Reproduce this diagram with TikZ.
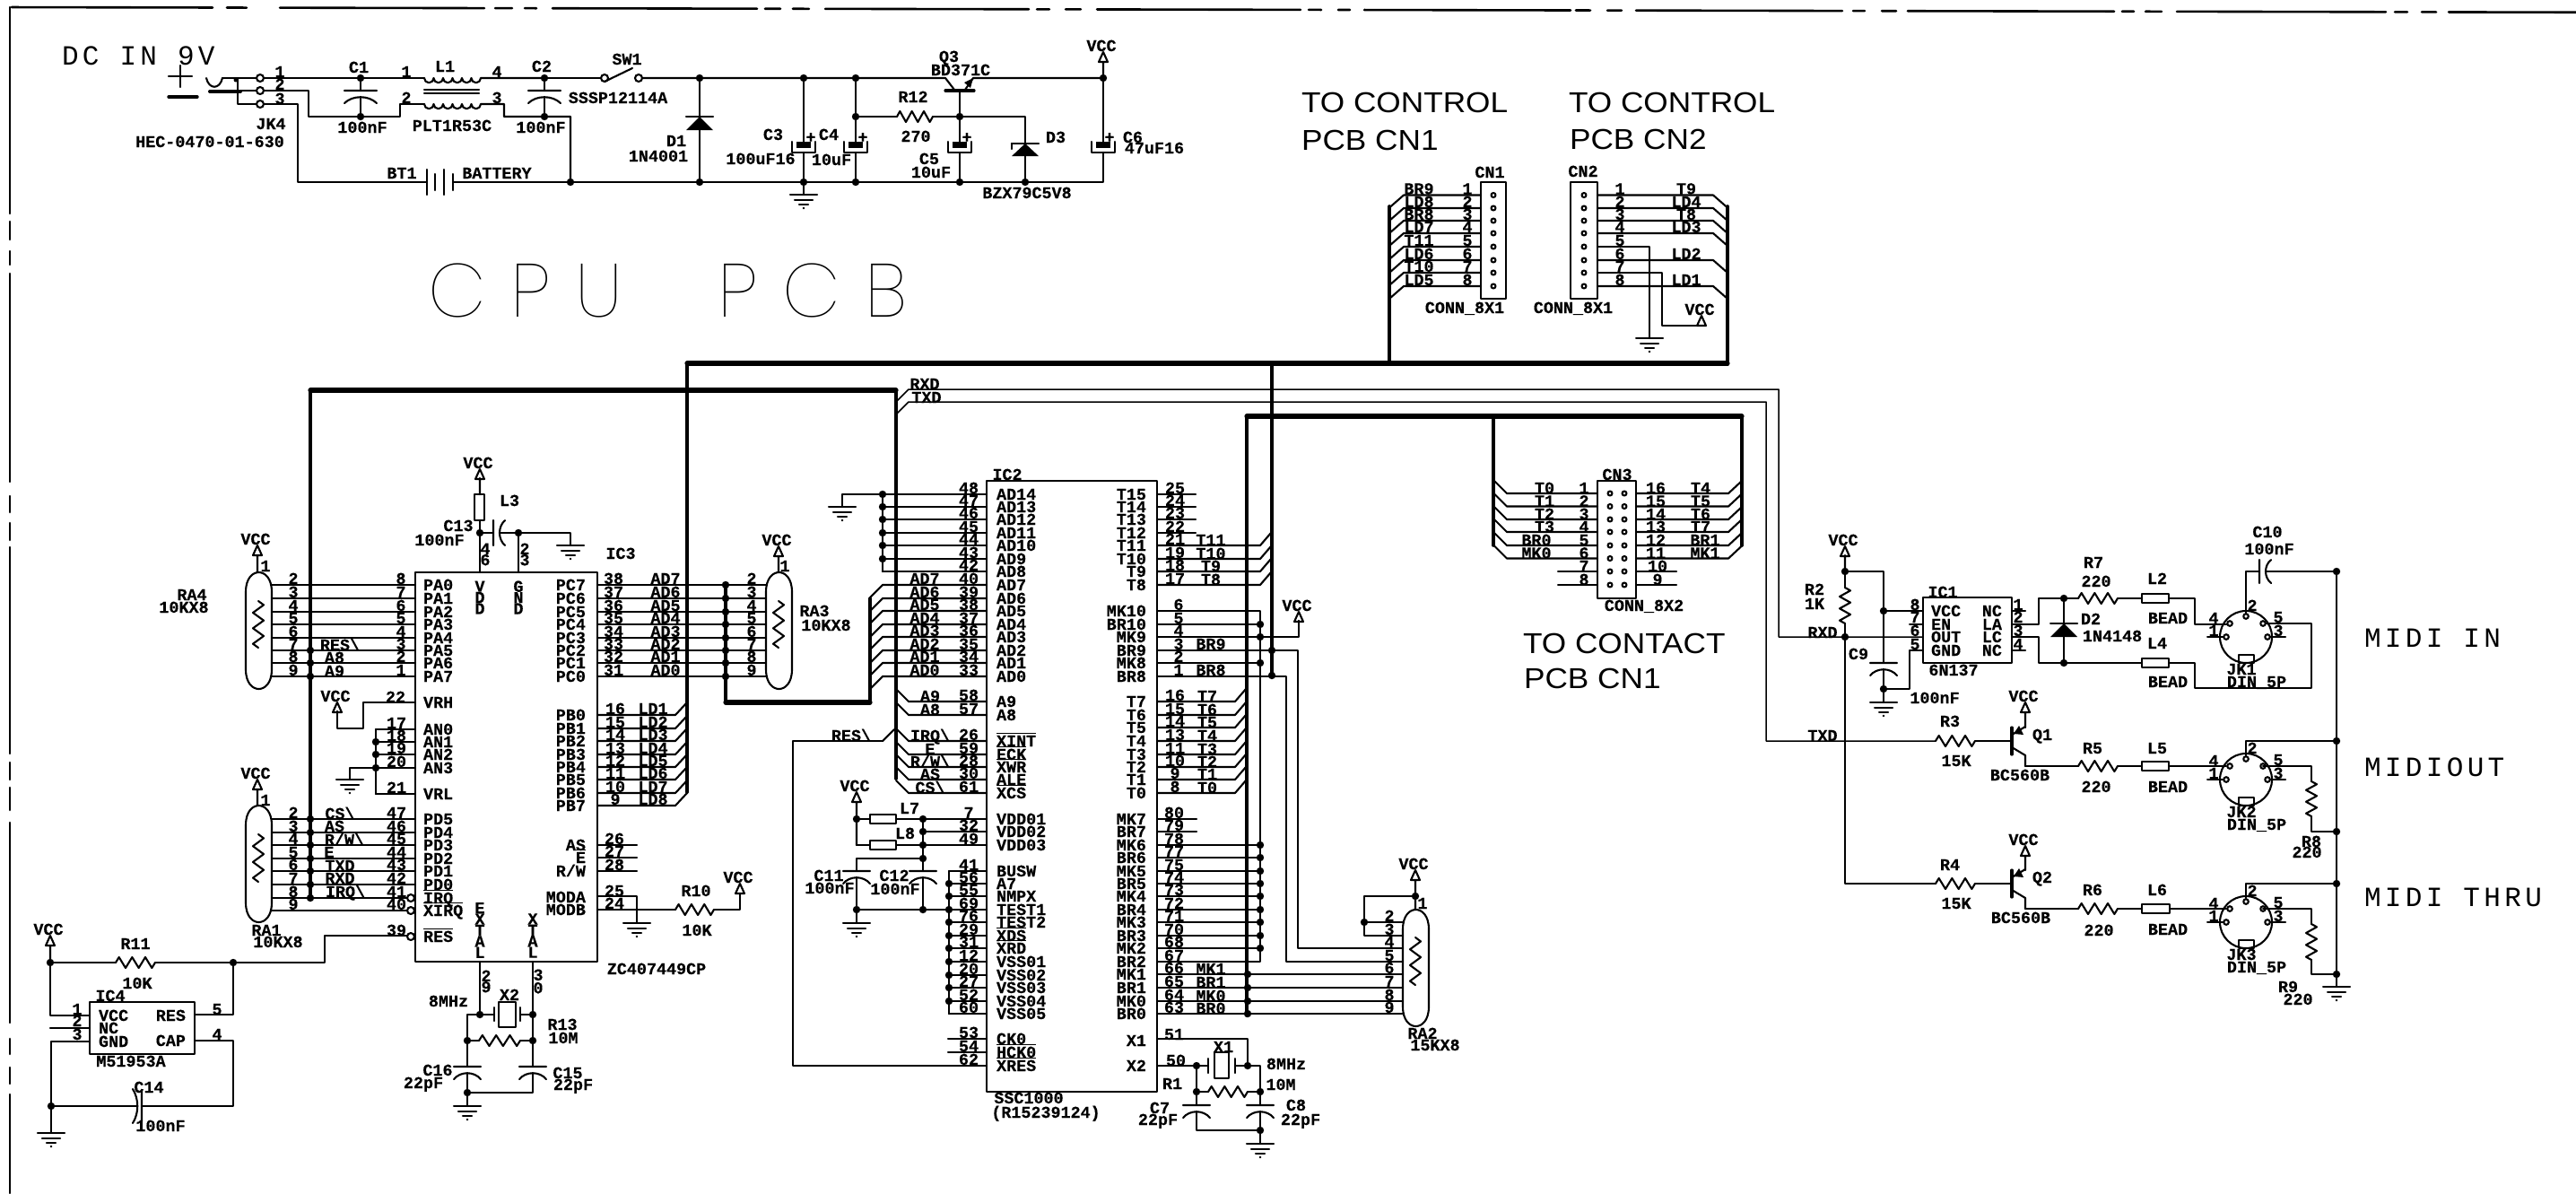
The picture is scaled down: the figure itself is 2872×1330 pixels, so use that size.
\documentclass[tikz,border=0pt]{standalone}
\usepackage{fontspec}
\setmainfont{Liberation Sans}
\newfontfamily\lb[BoldFeatures={FakeBold=0.4}]{Liberation Mono}
\newfontfamily\bgm[LetterSpace=14]{Liberation Mono}
\newfontfamily\ctl[FakeStretch=1.1]{Liberation Sans}
\newfontfamily\cpuf[FakeStretch=1.0,LetterSpace=33]{Poppins Thin}
\newcommand\labfont{\lb\bfseries\fontsize{9.2}{6.2}\selectfont}
\newcounter{tc}
\tikzset{
 lab/.style={font=\labfont,inner sep=0pt,yshift=-3pt},
 stk/.style={font=\labfont,inner sep=0pt,align=center,anchor=center},
 bus/.style={line width=2.6pt},
 midbus/.style={line width=1.8pt},
 thin1/.style={line width=0.75pt},
 big/.style={inner sep=0pt,anchor=base west},
 fr/.style={line width=1.3pt}
}
\newcommand\Tc[3]{\stepcounter{tc}\node[lab,anchor=base] (t\thetc) at (#1,#2) {#3};}
\newcommand\Tl[3]{\stepcounter{tc}\node[lab,anchor=base west] (t\thetc) at (#1,#2) {#3};}
\newcommand\Tr[3]{\stepcounter{tc}\node[lab,anchor=base east] (t\thetc) at (#1,#2) {#3};}
\newcommand\Vs[3]{\stepcounter{tc}\node[stk] (t\thetc) at (#1,#2) {#3};}
\newcommand\ob[1]{\ensuremath{\overline{\hbox{#1}}}}
\newcommand\bs{\textbackslash}
\newcommand\RW{R/W}
\newcommand\jn[2]{\fill (#1,#2) circle (4.2);}
\newcommand\gnd[2]{\draw (#1-15,#2)--(#1+15,#2) (#1-10,#2+6)--(#1+10,#2+6) (#1-5,#2+11)--(#1+5,#2+11); \fill (#1,#2+15) circle (1.4);}
\newcommand\vcc[3]{\draw (#1,#2)--(#1-5,#2+11)--(#1+5,#2+11)--cycle (#1,#2+11)--(#1,#3); \Tc{#1-2}{#2-7}{VCC}}
\newcommand\resH[3]{\pgfmathsetmacro\rd{(#2-#1)/6}\draw (#1,#3) -- ++(\rd/2,-6) -- ++(\rd,12) -- ++(\rd,-12) -- ++(\rd,12) -- ++(\rd,-12) -- ++(\rd,12) -- (#2,#3);}
\newcommand\resV[3]{\pgfmathsetmacro\rd{(#3-#2)/6}\draw (#1,#2) -- ++(6,\rd/2) -- ++(-12,\rd) -- ++(12,\rd) -- ++(-12,\rd) -- ++(12,\rd) -- ++(-12,\rd) -- (#1,#3);}
\newcommand\capV[3]{\draw (#1-#3,#2)--(#1+#3,#2) (#1-#3,#2+14) .. controls (#1-#3/2,#2+5) and (#1+#3/2,#2+5) .. (#1+#3,#2+14);}
\newcommand\capH[3]{\draw (#1,#2-#3)--(#1,#2+#3) (#1+13,#2-#3) .. controls (#1+5,#2-#3/2) and (#1+5,#2+#3/2) .. (#1+13,#2+#3);}
\newcommand\elec[2]{\draw (#1-13,158)--(#1-13,170)--(#1+13,170)--(#1+13,158); \fill (#1-8,158) rectangle (#1+8,165); \draw (#1,87)--(#1,158) (#1,170)--(#1,203); \Tc{#1+#2}{153}{+}}
\newcommand\bead[3]{\draw[fill=white] (#1,#3-5) rectangle (#2,#3+5);}
\newcommand\diode[4]{\draw (#1-#4,#2)--(#1+#4,#2); \fill (#1,#2)--(#1-#4,#3)--(#1+#4,#3)--cycle;}
\newcommand\capsule[4]{\draw (#1,#3+22) .. controls (#1,#3+6) and (#1+8,#3) .. ({(#1+#2)/2},#3) .. controls (#2-8,#3) and (#2,#3+6) .. (#2,#3+22) -- (#2,#4-22) .. controls (#2,#4-6) and (#2-8,#4) .. ({(#1+#2)/2},#4) .. controls (#1+8,#4) and (#1,#4-6) .. (#1,#4-22) -- cycle;}
\newcommand\din[3]{\draw (#1,#2) circle (29); \foreach \a/\b in {0/-23,-18/-15,-22/0,19/-15,24/0}{\draw[fill=white] (#1+\a,#2+\b) circle (2.8);}
 \draw (#1-8,#2+20) rectangle (#1+9,#2+29); \draw (#1-43,#2)--(#1-25,#2) (#1+27,#2)--(#1+44,#2);
 \Tc{#1+7}{#2-35}{2}\Tc{#1-36}{#2-21}{4}\Tc{#1-36}{#2-7}{1}\Tc{#1+36}{#2-22}{5}\Tc{#1+36}{#2-7}{3}
 \Tc{#1-5}{#2+36}{#3}\Tc{#1+12}{#2+50}{DIN\_5P}}
\newcommand\qq[2]{\draw[line width=1.6pt] (2243,#1-15)--(2243,#1+15); \draw (2243,#1-7)--(2258,#1-16) (2243,#1+7)--(2258,#1+16)--(2258,#1+28); \fill (2245,#1-8)--(2251,#1-17)--(2256,#1-7)--cycle; \Tc{2277}{#1-7}{#2}}
\begin{document}
\begin{tikzpicture}[x=0.5pt,y=-0.5pt,line width=1.05pt,line cap=round,line join=round]
\useasboundingbox (0,0) rectangle (2872,1330);
% frame
\foreach \a/\b in {13/237,253/275,312/540,552/571,585/598,616/844,853/870,884/902,920/1147,1156/1170,1188/1205,1223/1450,1459/1473,1492/1505,1521/1751,1757/1773,1792/1808,1824/2054,2066/2079,2098/2114,2127/2357,2366/2379,2392/2410,2427/2660,2670/2684,2700/2716,2730/2872}{\draw[fr] (\a,8+\a*0.002)--(\b,8+\b*0.002);}
\foreach \a/\b in {8/238,247/267,280/295,305/537,553/571,583/602,610/840,850/869,878/903,917/1140,1158/1175,1190/1208,1220/1330}{\draw[fr] (11,\a)--(11,\b);}
% power section
\node[big,font=\bgm\fontsize{15.5}{16}\selectfont] (dc) at (68,72) {DC IN 9V};
\draw (201,73)--(201,97) (188,85)--(214,85);
\draw[line width=1.7pt] (188,108)--(220,108);
\draw (230,87) .. controls (233,100) and (245,100) .. (248,87);
\draw[line width=2pt] (234,102)--(268,102);
\draw (248,87)--(286,87) (265,87)--(265,116)--(286,116) (268,101)--(286,101);
\fill (263,89) circle (2.5);
\foreach \y in {87,101,116}{\draw (290,\y) circle (4);}
\Tc{312}{80}{1}\Tc{312}{94}{2}\Tc{312}{110}{3}
\Tc{302}{138}{JK4}\Tc{234}{158}{HEC-0470-01-630}
\draw (294,87)--(473,87) (294,101)--(344,101)--(344,130)--(446,130)--(446,116)--(473,116);
\draw (294,116)--(332,116)--(332,203)--(476,203);
\jn{402}{87}\jn{402}{130}
\draw (402,87)--(402,101) (402,108)--(402,130); \capV{402}{101}{18}
\Tc{400}{75}{C1}\Tc{404}{142}{100nF}
\draw (473,87) arc (180:0:5.25) arc (180:0:5.25) arc (180:0:5.25) arc (180:0:5.25) arc (180:0:5.25) arc (180:0:5.25)--(607,87);
\draw (473,116) arc (180:0:5.25) arc (180:0:5.25) arc (180:0:5.25) arc (180:0:5.25) arc (180:0:5.25) arc (180:0:5.25)--(562,116)--(562,130)--(636,130)--(636,203);
\draw (473,100)--(534,100) (473,104)--(534,104);
\Tc{453}{80}{1}\Tc{496}{74}{L1}\Tc{554}{80}{4}\Tc{453}{109}{2}\Tc{554}{109}{3}\Tc{504}{140}{PLT1R53C}
\jn{607}{87}\jn{607}{130}
\draw (607,87)--(670,87) (607,108)--(607,130); \draw (607,87)--(607,101); \capV{607}{101}{18}
\Tc{604}{74}{C2}\Tc{603}{142}{100nF}\Tc{689}{109}{SSSP12114A}\Tc{699}{66}{SW1}
\draw (674,87) circle (4) (712,87) circle (4); \draw (674,91)--(705,76);
\draw (716,87)--(1054,87)--(1064,100) (1076,100)--(1085,87)--(1230,87);
\draw[line width=1.6pt] (1054,101)--(1086,101);
\fill (1085,87)--(1075,92)--(1082,98)--cycle;
\jn{636}{203}
\draw (636,203)--(1230,203)--(1230,170) (1230,158)--(1230,87) (505,203)--(636,203);
\draw (476,189)--(476,217) (485,194)--(485,212) (495,189)--(495,217) (505,194)--(505,212);
\Tc{448}{193}{BT1}\Tc{554}{193}{BATTERY}
\draw (780,87)--(780,203); \diode{780}{130}{145}{15}\jn{780}{87}\jn{780}{203}
\Tc{754}{157}{D1}\Tc{734}{174}{1N4001}
\elec{896}{8}\jn{896}{87}\jn{896}{203}
\Tc{862}{150}{C3}\Tc{848}{177}{100uF16}
\draw (896,203)--(896,217); \gnd{896}{217}
\elec{954}{8}\jn{954}{87}\jn{954}{203}\jn{954}{130}
\Tc{924}{150}{C4}\Tc{927}{178}{10uF}
\draw (954,130)--(1000,130) (1040,130)--(1070,130); \resH{1000}{1040}{130}
\Tc{1018}{108}{R12}\Tc{1021}{152}{270}
\Tc{1058}{63}{Q3}\Tc{1071}{78}{BD371C}
\draw (1070,101)--(1070,158) (1070,170)--(1070,203);
\draw (1057,158)--(1057,170)--(1083,170)--(1083,158); \fill (1062,158) rectangle (1078,165);
\jn{1070}{130}\jn{1070}{203}
\Tc{1078}{153}{+}\Tc{1036}{177}{C5}\Tc{1038}{192}{10uF}
\draw (1070,130)--(1143,130)--(1143,203); \diode{1143}{160}{174}{15}\draw (1128,160)--(1128,166); \jn{1143}{203}
\Tc{1177}{153}{D3}\Tc{1145}{215}{BZX79C5V8}
\jn{1230}{87}
\draw (1217,158)--(1217,170)--(1243,170)--(1243,158); \fill (1222,158) rectangle (1238,165);
\Tc{1237}{153}{+}\Tc{1263}{153}{C6}\Tc{1287}{165}{47uF16}
\vcc{1230}{58}{87}
\node[big,font=\cpuf\fontsize{42}{44}\selectfont] (cpu) at (476,353) {CPU\hspace{27pt} PCB};
% headings
\node[big,font=\ctl\fontsize{16}{17}\selectfont] (h1) at (1450,125) {TO CONTROL};
\node[big,font=\ctl\fontsize{16}{17}\selectfont] (h2) at (1450,167) {PCB CN1};
\node[big,font=\ctl\fontsize{16}{17}\selectfont] (h3) at (1748,125) {TO CONTROL};
\node[big,font=\ctl\fontsize{16}{17}\selectfont] (h4) at (1749,166) {PCB CN2};
\node[big,font=\ctl\fontsize{16}{17}\selectfont] (h5) at (1697,728) {TO CONTACT};
\node[big,font=\ctl\fontsize{16}{17}\selectfont] (h6) at (1698,767) {PCB CN1};
% CN1
\draw (1651,203) rectangle (1679,333); \draw (1751,203) rectangle (1781,333);
\foreach \y/\n/\t [count=\i] in {217.5/1/BR9,232/2/LD8,246/3/BR8,260/4/LD7,275/5/T11,290/6/LD6,304/7/T10,319/8/LD5}{
 \draw (1665,\y) circle (2.5) (1766,\y) circle (2.5);
 \draw (1651,\y)--(1565,\y)--(1549,\y+14);
 \Tc{1636}{\y-7}{\n}\Tc{1582}{\y-7}{\t}\Tc{1806}{\y-7}{\n}}
\foreach \y/\t in {217.5/T9,232/LD4,246/T8,260/LD3,290/LD2,319/LD1}{\draw (1781,\y)--(1910,\y)--(1926,\y+14); \Tc{1880}{\y-7}{\t}}
\draw (1781,275)--(1839,275)--(1839,377); \gnd{1839}{377}
\draw (1781,304)--(1853,304)--(1853,363)--(1897,363);
\vcc{1897}{352}{363}
\Tc{1661}{192}{CN1}\Tc{1765}{191}{CN2}\Tc{1633}{343}{CONN\_8X1}\Tc{1754}{343}{CONN\_8X1}
% buses
\draw[midbus] (1549,230)--(1549,406) (1926,230)--(1926,406);
\draw[bus] (766,405)--(1926,405);
\draw[midbus] (766,405)--(766,883);
\draw[bus] (346,435)--(999,435);
\draw[midbus] (346,435)--(346,1002) (999,435)--(999,868);
\draw[bus] (809,783)--(970,783);
\draw[midbus] (809,652)--(809,783) (970,667)--(970,783);
\draw[bus] (1390,464)--(1942,464);
\draw[midbus] (1390,464)--(1390,1132) (1418,405)--(1418,753) (1665,464)--(1665,608) (1942,464)--(1942,608);
% RXD / TXD
\draw[thin1] (1000,447)--(1013,434)--(1983,434)--(1983,710)--(2144,710);
\draw[thin1] (1000,461)--(1013,448)--(1969,448)--(1969,826)--(2158,826);
\Tc{1031}{428}{RXD}\Tc{1033}{443}{TXD}
% IC3
\draw (463,638) rectangle (666,1072);
\Tc{692}{617}{IC3}\Tc{732}{1080}{ZC407449CP}
\foreach \Y/\Pn/\Tx/\Qn in {652/8/PA0/2,667/7/PA1/3,682/6/PA2/4,696/5/PA3/5,711/4/PA4/6,725/3/PA5/7,739/2/PA6/8,754/1/PA7/9}{
 \draw (303,\Y)--(463,\Y); \Tc{447}{\Y-7}{\Pn}\Tl{471}{\Y}{\Tx}\Tc{327}{\Y-7}{\Qn}}
\jn{346}{725}\jn{346}{739}\jn{346}{754}
\Tc{379}{719}{RES\bs}\Tc{373}{733}{A8}\Tc{373}{748}{A9}
\capsule{274}{303}{638}{768}\resV{288}{670}{722}
\vcc{287}{608}{638}\Tc{296}{631}{1}\Tc{214}{663}{RA4}\Tc{205}{677}{10KX8}
\foreach \Y/\Pn/\Tx/\Nn/\Qn in {652/38/PC7/AD7/2,667/37/PC6/AD6/3,682/36/PC5/AD5/4,696/35/PC4/AD4/5,711/34/PC3/AD3/6,725/33/PC2/AD2/7,739/32/PC1/AD1/8,754/31/PC0/AD0/9}{
 \draw (666,\Y)--(854,\Y); \Tc{684}{\Y-7}{\Pn}\Tr{654}{\Y}{\Tx}\Tc{742}{\Y-7}{\Nn}\Tc{838}{\Y-7}{\Qn}\jn{809}{\Y}}
\capsule{854}{883}{638}{768}\resV{868}{670}{722}
\vcc{868}{609}{638}\Tc{875}{631}{1}\Tc{908}{681}{RA3}\Tc{921}{697}{10KX8}
% top pins IC3
\draw (535,638)--(535,580) (535,551)--(535,533); \vcc{535}{523}{551}
\draw (529,551) rectangle (540,580);
\Tc{568}{558}{L3}\Tc{511}{586}{C13}\Tc{490}{602}{100nF}
\capH{550}{594}{14}
\draw (535,594)--(550,594) (557,594)--(636,594)--(636,608) (578,594)--(578,638);
\jn{535}{594}\jn{578}{594}\gnd{636}{608}
\Vs{541}{618}{4\\6}\Vs{585}{618}{2\\3}
\Vs{535}{666}{V\\D\\D}\Vs{578}{666}{G\\N\\D}
% VRH, AN
\Tl{471}{783}{VRH}\Tc{441}{777}{22}
\draw (463,783)--(405,783)--(405,812)--(376,812)--(376,793); \vcc{376}{783}{793}
\foreach \Y/\Pn/\Tx in {813/17/AN0,827/18/AN1,841/19/AN2,856/20/AN3,885/21/VRL}{\draw (419,\Y)--(463,\Y); \Tc{442}{\Y-7}{\Pn}\Tl{471}{\Y}{\Tx}}
\draw (419,813)--(419,885) (419,856)--(390,856)--(390,869); \jn{419}{827}\jn{419}{841}\jn{419}{856}\gnd{390}{869}
% PB
\foreach \Y/\Pn/\Tx/\Nn in {797/16/PB0/LD1,812/15/PB1/LD2,826/14/PB2/LD3,841/13/PB3/LD4,855/12/PB4/LD5,869/11/PB5/LD6,884/10/PB6/LD7,898/9/PB7/LD8}{
 \draw (666,\Y)--(753,\Y)--(766,\Y-14); \Tc{686}{\Y-7}{\Pn}\Tr{654}{\Y}{\Tx}\Tc{728}{\Y-7}{\Nn}}
% PD
\foreach \Y/\Pn/\Tx/\Qn in {913/47/PD5/2,928/46/PD4/3,942/45/PD3/4,957/44/PD2/5,971/43/PD1/6,986/42/PD0/7}{
 \draw (303,\Y)--(463,\Y); \Tc{442}{\Y-7}{\Pn}\Tl{471}{\Y}{\Tx}\Tc{327}{\Y-7}{\Qn}\jn{346}{\Y}}
\draw (303,1001)--(454,1001) (303,1015)--(454,1015); \jn{346}{1001}
\draw (458,1001) circle (4) (458,1015) circle (4) (458,1044) circle (4);
\Tc{327}{994}{8}\Tc{327}{1008}{9}\Tc{442}{994}{41}\Tc{442}{1008}{40}\Tc{442}{1037}{39}
\Tl{471}{1001}{\ob{IRQ}}\Tl{471}{1015}{\ob{XIRQ}}\Tl{471}{1044}{\ob{RES}}
\Tc{379}{907}{CS\bs}\Tc{373}{921}{AS}\Tc{384}{936}{\RW\bs}\Tc{367}{950}{E}\Tc{379}{965}{TXD}\Tc{379}{979}{RXD}\Tc{385}{994}{IRQ\bs}
\capsule{274}{303}{898}{1028}\resV{288}{930}{983}
\vcc{287}{869}{898}\Tc{296}{892}{1}\Tc{297}{1037}{RA1}\Tc{310}{1050}{10KX8}
% bottom IC3
\Vs{535}{1037}{E\\X\\T\\A\\L}\Vs{594}{1043}{X\\T\\A\\L}
\foreach \Y/\Pn/\Tx in {942/26/AS,956/27/\ob{E},971/28/\RW}{\draw (666,\Y)--(710,\Y); \Tc{685}{\Y-7}{\Pn}\Tr{654}{\Y}{\Tx}}
\Tr{654}{1000}{MODA}\Tr{654}{1014}{MODB}\Tc{685}{993}{25}\Tc{685}{1007}{24}
\draw (666,999)--(710,999)--(710,1029); \gnd{710}{1029}
\draw (666,1014)--(753,1014) (796,1014)--(825,1014)--(825,996); \resH{753}{796}{1014}\vcc{825}{985}{996}
\Tc{776}{993}{R10}\Tc{777}{1037}{10K}
% reset
\draw (454,1043)--(362,1043)--(362,1073)--(173,1073) (129,1073)--(56,1073); \resH{129}{173}{1073}
\jn{260}{1073}\jn{56}{1073}\vcc{56}{1043}{1073}
\Tc{151}{1052}{R11}\Tc{153}{1096}{10K}
\draw (56,1073)--(56,1132)--(100,1132) (56,1146)--(100,1146) (100,1161)--(57,1161)--(57,1263);
\draw (100,1117) rectangle (217,1175);
\Tc{86}{1125}{1}\Tc{86}{1138}{2}\Tc{86}{1153}{3}\Tc{242}{1125}{5}\Tc{242}{1153}{4}
\Tc{123}{1110}{IC4}\Tc{146}{1183}{M51953A}\Tl{109}{1132}{VCC}\Tl{109}{1146}{NC}\Tl{109}{1161}{GND}\Tr{208}{1132}{RES}\Tr{208}{1160}{CAP}
\draw (217,1131)--(260,1131)--(260,1073) (217,1160)--(260,1160)--(260,1233)--(158,1233) (57,1233)--(152,1233);
\draw (158,1216)--(158,1250) (148,1214) .. controls (155,1225) and (155,1241) .. (148,1252);
\jn{57}{1233}\gnd{57}{1263}
\Tc{166}{1212}{C14}\Tc{179}{1255}{100nF}
% X2
\draw (535,1072)--(535,1131)--(551,1131) (594,1072)--(594,1189) (580,1131)--(594,1131);
\draw (551,1123)--(551,1138) (580,1123)--(580,1138) (556,1117) rectangle (575,1145);
\Vs{542}{1094}{2\\9}\Vs{600}{1094}{3\\0}
\Tc{500}{1116}{8MHz}\Tc{568}{1109}{X2}\Tc{627}{1142}{R13}\Tc{628}{1157}{10M}
\draw (535,1131)--(521,1131)--(521,1189) (521,1160)--(534,1160) (580,1160)--(594,1160); \resH{534}{580}{1160}
\jn{535}{1131}\jn{594}{1131}\jn{521}{1160}\jn{594}{1160}
\capV{521}{1189}{15}\capV{594}{1189}{15}
\draw (521,1196)--(521,1233) (594,1196)--(594,1218)--(521,1218); \jn{521}{1218}\gnd{521}{1233}
\Tc{488}{1193}{C16}\Tc{472}{1207}{22pF}\Tc{633}{1196}{C15}\Tc{639}{1209}{22pF}
% IC2
\draw (1100,536) rectangle (1290,1217);
\Tc{1123}{529}{IC2}\Tc{1147}{1224}{SSC1000}\Tc{1166}{1240}{(R15239124)}
\foreach \Y/\Pn/\Tx in {551/48/AD14,565/47/AD13,579/46/AD12,594/45/AD11,608/44/AD10,623/43/AD9,637/42/AD8}{
 \draw (984,\Y)--(1100,\Y); \Tc{1080}{\Y-7}{\Pn}\Tl{1110}{\Y}{\Tx}}
\foreach \Y in {551,565,579,594,608,623}{\jn{984}{\Y}}
\draw (984,551)--(984,637) (984,551)--(939,551)--(939,565); \gnd{939}{565}
\foreach \Y/\Pn/\Tx in {652/40/AD7,667/39/AD6,681/38/AD5,696/37/AD4,710/36/AD3,725/35/AD2,739/34/AD1,754/33/AD0}{
 \draw (1100,\Y)--(984,\Y)--(970,\Y+14); \Tc{1080}{\Y-7}{\Pn}\Tc{1031}{\Y-7}{\Tx}\Tl{1110}{\Y}{\Tx}}
\foreach \Y/\Pn/\Tx/\Nn in {782/58/A9/A9,797/57/A8/A8,826/26/\ob{XINT}/IRQ\bs,841/59/\ob{ECK}/E,855/28/\ob{XWR}/\RW\bs,869/30/ALE/AS,884/61/\ob{XCS}/CS\bs}{
 \draw (1100,\Y)--(1013,\Y)--(999,\Y-14); \Tc{1080}{\Y-7}{\Pn}\Tl{1110}{\Y}{\Tx}\Tc{1037}{\Y-6}{\Nn}}
\draw (984,826)--(997,813); \draw (984,826)--(884,826)--(884,1188)--(1100,1188); \Tc{949}{820}{RES\bs}
\foreach \Y/\Pn/\Tx in {551/25/T15,565/24/T14,579/23/T13,594/22/T12}{\draw (1290,\Y)--(1333,\Y); \Tc{1310}{\Y-7}{\Pn}\Tr{1279}{\Y}{\Tx}}
\foreach \Y/\Pn/\Tx in {608/21/T11,623/19/T10,637/18/T9,652/17/T8}{\draw (1290,\Y)--(1405,\Y)--(1417,\Y-14); \Tc{1310}{\Y-7}{\Pn}\Tr{1279}{\Y}{\Tx}\Tc{1350}{\Y-6}{\Tx}}
\foreach \Y/\Pn/\Tx in {681/6/MK10,696/5/BR10,710/4/MK9,725/3/BR9,739/2/MK8,754/1/BR8}{\Tc{1314}{\Y-7}{\Pn}\Tr{1279}{\Y}{\Tx}}
\draw (1290,681)--(1405,681)--(1405,1072)--(1290,1072) (1290,696)--(1405,696) (1290,739)--(1405,739);
\jn{1405}{696}\jn{1405}{710}\jn{1405}{739}
\draw (1290,710)--(1448,710)--(1448,692); \vcc{1448}{682}{692}
\draw (1290,725)--(1447,725)--(1447,1057)--(1564,1057) (1290,754)--(1434,754)--(1434,1072)--(1564,1072);
\jn{1418}{725}\jn{1418}{753}
\Tc{1350}{718}{BR9}\Tc{1350}{747}{BR8}
\foreach \Y/\Pn/\Tx in {782/16/T7,797/15/T6,811/14/T5,826/13/T4,841/11/T3,855/10/T2,869/9/T1,884/8/T0}{\draw (1290,\Y)--(1377,\Y)--(1389,\Y-14); \Tc{1310}{\Y-7}{\Pn}\Tr{1279}{\Y}{\Tx}\Tc{1346}{\Y-6}{\Tx}}
\foreach \Y/\Pn/\Tx in {913/80/MK7,927/79/BR7}{\draw (1290,\Y)--(1334,\Y); \Tc{1309}{\Y-7}{\Pn}\Tr{1279}{\Y}{\Tx}}
\foreach \Y/\Pn/\Tx in {942/78/MK6,956/77/BR6,971/75/MK5,985/74/BR5,999/73/MK4,1014/72/BR4,1028/71/MK3,1043/70/BR3,1057/68/MK2}{\draw (1290,\Y)--(1405,\Y); \Tc{1309}{\Y-7}{\Pn}\Tr{1279}{\Y}{\Tx}\jn{1405}{\Y}}
\Tc{1309}{1065}{67}\Tr{1279}{1072}{BR2}
\foreach \Y/\Pn/\Tx/\Qn in {1086/66/MK1/6,1101/65/BR1/7,1116/64/MK0/8,1130/63/BR0/9}{\draw (1290,\Y)--(1564,\Y); \Tc{1309}{\Y-7}{\Pn}\Tr{1279}{\Y}{\Tx}\Tc{1350}{\Y-6}{\Tx}\Tc{1549}{\Y-7}{\Qn}\jn{1391}{\Y}}
% RA2
\capsule{1564}{1593}{1014}{1144}\resV{1578}{1045}{1098}
\vcc{1578}{970}{1014}\jn{1578}{999}
\draw (1578,999)--(1521,999)--(1521,1043)--(1564,1043) (1521,1028)--(1564,1028); \jn{1521}{1028}
\Tc{1549}{1021}{2}\Tc{1549}{1036}{3}\Tc{1549}{1050}{4}\Tc{1549}{1065}{5}
\Tc{1586}{1007}{1}\Tc{1586}{1152}{RA2}\Tc{1600}{1165}{15KX8}
% left power IC2
\foreach \Y/\Pn/\Tx in {913/7/VDD01,927/32/VDD02,942/49/VDD03}{\draw (1029,\Y)--(1100,\Y); \Tc{1080}{\Y-7}{\Pn}\Tl{1110}{\Y}{\Tx}}
\foreach \Y/\Pn/\Tx in {971/41/BUSW,985/56/A7,999/55/NMPX,1014/69/TEST1,1028/76/TEST2,1043/29/\ob{XDS},1057/31/\ob{XRD},1072/12/VSS01,1087/20/VSS02,1101/27/VSS03,1116/52/VSS04,1130/60/VSS05}{\draw (1058,\Y)--(1100,\Y); \Tc{1080}{\Y-7}{\Pn}\Tl{1110}{\Y}{\Tx}}
\draw (1058,971)--(1058,1130);
\foreach \Y in {985,999,1014,1028,1043,1057,1072,1087,1101,1116}{\jn{1058}{\Y}}
\foreach \Y/\Pn/\Tx in {1158/53/CK0,1173/54/\ob{HCK0}}{\draw (1057,\Y)--(1100,\Y); \Tc{1080}{\Y-7}{\Pn}\Tl{1110}{\Y}{\Tx}}
\Tc{1080}{1181}{62}\Tl{1110}{1188}{\ob{XRES}}
\vcc{955}{883}{942}\draw (955,913)--(1029,913) (955,942)--(1029,942);
\bead{970}{999}{913}\bead{970}{999}{942}
\jn{955}{913}\jn{1029}{913}\jn{1029}{927}\jn{1029}{942}\jn{1029}{957}
\draw (1029,913)--(1029,971) (1029,978)--(1029,1014) (1029,957)--(955,957)--(955,971) (955,978)--(955,1014) (955,1014)--(1058,1014) (955,1014)--(955,1029);
\capV{955}{971}{15}\capV{1029}{971}{15}\jn{955}{1014}\jn{1029}{1014}\gnd{955}{1029}
\Tc{1014}{901}{L7}\Tc{1009}{929}{L8}\Tc{924}{976}{C11}\Tc{925}{990}{100nF}\Tc{997}{976}{C12}\Tc{998}{991}{100nF}
% X1
\Tr{1279}{1160}{X1}\Tr{1279}{1188}{X2}\Tc{1309}{1153}{51}\Tc{1311}{1182}{50}
\draw (1290,1158)--(1391,1158)--(1391,1188) (1290,1188)--(1347,1188) (1377,1188)--(1405,1188)--(1405,1232);
\draw (1347,1180)--(1347,1196) (1377,1180)--(1377,1196) (1354,1173) rectangle (1370,1202);
\jn{1334}{1188}\jn{1391}{1188}
\Tc{1364}{1167}{X1}\Tc{1434}{1186}{8MHz}\Tc{1428}{1209}{10M}\Tc{1307}{1208}{R1}
\draw (1334,1188)--(1334,1232) (1334,1217)--(1347,1217) (1391,1217)--(1405,1217); \resH{1347}{1391}{1217}\jn{1334}{1217}\jn{1405}{1217}
\capV{1334}{1232}{15}\capV{1405}{1232}{15}
\draw (1334,1239)--(1334,1260)--(1405,1260) (1405,1239)--(1405,1275); \jn{1405}{1260}\gnd{1405}{1275}
\Tc{1293}{1235}{C7}\Tc{1291}{1248}{22pF}\Tc{1445}{1232}{C8}\Tc{1450}{1248}{22pF}
% CN3
\draw (1781,536) rectangle (1824,667);
\foreach \Y/\Pn/\Tx/\Qn/\Ux in {550/1/T0/16/T4,564.5/2/T1/15/T5,579/3/T2/14/T6,593/4/T3/13/T7}{
 \draw (1795,\Y) circle (2.5) (1811,\Y) circle (2.5);
 \draw (1781,\Y)--(1680,\Y)--(1666,\Y-14) (1824,\Y)--(1927,\Y)--(1942,\Y-14);
 \Tc{1766}{\Y-6}{\Pn}\Tc{1722}{\Y-6}{\Tx}\Tc{1846}{\Y-6}{\Qn}\Tc{1896}{\Y-6}{\Ux}}
\foreach \Y/\Pn/\Tx/\Qn/\Ux in {608/5/BR0/12/BR1,622.5/6/MK0/11/MK1}{
 \draw (1795,\Y) circle (2.5) (1811,\Y) circle (2.5);
 \draw (1781,\Y)--(1680,\Y)--(1666,\Y-14) (1824,\Y)--(1927,\Y)--(1942,\Y-14);
 \Tc{1766}{\Y-6}{\Pn}\Tc{1713}{\Y-6}{\Tx}\Tc{1846}{\Y-6}{\Qn}\Tc{1901}{\Y-6}{\Ux}}
\foreach \Y/\Pn/\Qn in {637/7/10,652/8/9}{
 \draw (1795,\Y) circle (2.5) (1811,\Y) circle (2.5);
 \draw (1781,\Y)--(1737,\Y) (1824,\Y)--(1869,\Y);
 \Tc{1766}{\Y-6}{\Pn}\Tc{1848}{\Y-6}{\Qn}}
\Tc{1803}{529}{CN3}\Tc{1833}{675}{CONN\_8X2}
% MIDI
\draw (2057,710)--(2057,695) (2057,655)--(2057,619); \resV{2057}{655}{695}\vcc{2057}{609}{637}
\jn{2057}{637}\jn{2057}{710}
\draw (2057,710)--(2057,985)--(2158,985);
\Tc{2032}{705}{RXD}\Tc{2032}{820}{TXD}\Tc{2023}{657}{R2}\Tc{2023}{673}{1K}
\draw (2057,637)--(2100,637)--(2100,739) (2100,746)--(2100,783) (2100,681)--(2144,681) (2129,696)--(2144,696) (2100,768)--(2129,768)--(2129,725)--(2144,725);
\jn{2100}{681}\jn{2100}{768}\capV{2100}{739}{15}\gnd{2100}{783}
\Tc{2072}{729}{C9}\Tc{2157}{778}{100nF}
\draw (2144,666) rectangle (2243,739);
\Tc{2166}{660}{IC1}\Tc{2178}{747}{6N137}
\Tl{2152}{681}{VCC}\Tl{2152}{696}{EN}\Tl{2152}{710}{OUT}\Tl{2152}{725}{GND}
\Tr{2233}{681}{NC}\Tr{2233}{696}{LA}\Tr{2233}{710}{LC}\Tr{2233}{725}{NC}
\Tc{2135}{674}{8}\Tc{2135}{688}{7}\Tc{2135}{703}{6}\Tc{2135}{718}{5}
\Tc{2250}{674}{1}\Tc{2250}{688}{2}\Tc{2250}{703}{3}\Tc{2250}{718}{4}
\draw (2243,681)--(2258,681) (2243,725)--(2258,725) (2243,696)--(2273,696)--(2273,667)--(2317,667) (2243,710)--(2273,710)--(2273,739)--(2388,739);
\draw (2301,667)--(2301,739); \diode{2301}{695}{710}{15}\jn{2301}{667}\jn{2301}{739}
\Tc{2331}{690}{D2}\Tc{2355}{709}{1N4148}
\resH{2317}{2361}{667}\Tc{2334}{627}{R7}\Tc{2337}{648}{220}
\draw (2361,667)--(2447,667)--(2447,696)--(2486,696) (2418,739)--(2447,739)--(2447,767)--(2577,767)--(2577,695)--(2523,695);
\bead{2388}{2418}{667}\bead{2388}{2418}{739}
\Tc{2405}{645}{L2}\Tc{2417}{689}{BEAD}\Tc{2405}{717}{L4}\Tc{2417}{760}{BEAD}
\din{2504}{710}{JK1}
\draw (2504,683)--(2504,637)--(2519,637) (2526,637)--(2605,637); \capH{2519}{637}{13}
\Tc{2528}{593}{C10}\Tc{2530}{612}{100nF}
\draw (2605,637)--(2605,1100); \foreach \Y in {637,826,927,985,1086}{\jn{2605}{\Y}}
\gnd{2605}{1100}
\resH{2158}{2202}{826}\draw (2202,826)--(2243,826); \qq{826}{Q1}\vcc{2258}{783}{811}
\Tc{2174}{804}{R3}\Tc{2181}{848}{15K}\Tc{2252}{864}{BC560B}
\draw (2258,854)--(2317,854) (2361,854)--(2482,854); \resH{2317}{2361}{854}\bead{2388}{2418}{854}
\Tc{2333}{834}{R5}\Tc{2337}{877}{220}\Tc{2405}{834}{L5}\Tc{2417}{877}{BEAD}
\din{2504}{869}{JK2}
\draw (2504,842)--(2504,826)--(2605,826) (2523,854)--(2577,854)--(2577,871) (2577,910)--(2577,927)--(2605,927); \resV{2577}{871}{910}
\Tc{2577}{938}{R8}\Tc{2572}{950}{220}
\resH{2158}{2202}{985}\draw (2202,985)--(2243,985); \qq{985}{Q2}\vcc{2258}{943}{970}
\Tc{2174}{964}{R4}\Tc{2181}{1007}{15K}\Tc{2253}{1023}{BC560B}
\draw (2258,1013)--(2317,1013) (2361,1013)--(2482,1013); \resH{2317}{2361}{1013}\bead{2388}{2419}{1013}
\Tc{2333}{992}{R6}\Tc{2340}{1037}{220}\Tc{2405}{992}{L6}\Tc{2417}{1036}{BEAD}
\din{2504}{1028}{JK3}
\draw (2504,1001)--(2504,985)--(2605,985) (2523,1013)--(2577,1013)--(2577,1030) (2577,1070)--(2577,1086)--(2605,1086); \resV{2577}{1030}{1070}
\Tc{2551}{1100}{R9}\Tc{2562}{1114}{220}
\node[big,font=\bgm\fontsize{15.5}{16}\selectfont] (m1) at (2635,721) {MIDI IN};
\node[big,font=\bgm\fontsize{15.5}{16}\selectfont] (m2) at (2635,865) {MIDIOUT};
\node[big,font=\bgm\fontsize{15.5}{16}\selectfont] (m3) at (2635,1010) {MIDI THRU};
\end{tikzpicture}
\end{document}
